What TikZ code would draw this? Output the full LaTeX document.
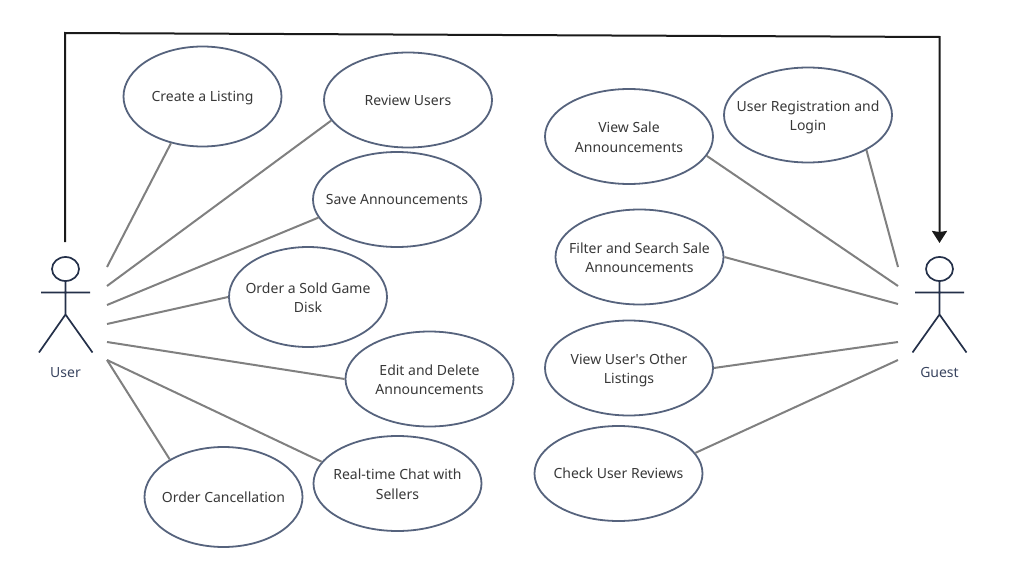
\documentclass[tikz,border=0pt]{standalone}
\usepackage{fontspec}
\setmainfont{Noto Sans}
\usetikzlibrary{shapes.geometric,arrows.meta}
\definecolor{ucedge}{HTML}{56637D}
\definecolor{uctext}{HTML}{383838}
\definecolor{actorc}{HTML}{243049}
\definecolor{actortext}{HTML}{3A4560}
\definecolor{linkc}{HTML}{808080}
\definecolor{flowc}{HTML}{1A1A1A}
\tikzset{
 usecase/.style={draw=ucedge,line width=1.8pt,ellipse,inner xsep=-30pt,inner ysep=0pt,minimum width=168pt,minimum height=95pt,align=center,text=uctext,font=\fontsize{14}{19.5}\selectfont,execute at begin node={\rule{0pt}{16.5pt}},execute at end node=\strut},
 usecasewide/.style={usecase,minimum width=158pt,minimum height=100pt},
 twolines/.style={execute at begin node={\rule{0pt}{37.5pt}}},
 actorline/.style={draw=actorc,line width=1.7pt},
 actorlabel/.style={text=actortext,font=\fontsize{14}{16}\selectfont,inner sep=0pt},
 link/.style={draw=linkc,line width=2pt},
 flow/.style={draw=flowc,line width=2pt},
}
\begin{document}
\begin{tikzpicture}[x=1pt,y=-1pt]
\useasboundingbox (0,0) rectangle (1026,578);
% use cases
\node[usecasewide] (create) at (202.5,96.5) {Create a Listing};
\node[usecase] (review) at (408,100) {Review Users};
\node[usecase] (save) at (397,199.5) {Save Announcements};
\node[usecasewide,twolines] (order) at (308,297) {Order a Sold Game\\Disk};
\node[usecase,twolines] (edit) at (429.5,379) {Edit and Delete\\Announcements};
\node[usecase,twolines] (chat) at (397.5,483.5) {Real-time Chat with\\Sellers};
\node[usecasewide] (cancel) at (223.5,497) {Order Cancellation};
\node[usecase,twolines] (viewsale) at (629,136.5) {View Sale\\Announcements};
\node[usecase,twolines] (register) at (808,115) {User Registration and\\Login};
\node[usecase,twolines] (filter) at (639.5,257) {Filter and Search Sale\\Announcements};
\node[usecase,twolines] (listings) at (629,368) {View User\textquotesingle s Other\\Listings};
\node[usecase] (check) at (618.5,473.5) {Check User Reviews};
% actors
\draw[actorline] (65.5,269) ellipse [x radius=13.5,y radius=12];
\draw[actorline] (65.5,281) -- (65.5,314.5) (41,292.5) -- (90,292.5) (39,352.5) -- (65.5,314.5) -- (92.5,352.5);
\node[actorlabel] (userlabel) at (65.5,372.5) {User};
\draw[actorline] (939.5,269) ellipse [x radius=13.5,y radius=12];
\draw[actorline] (939.5,281) -- (939.5,314.5) (915,292.5) -- (964,292.5) (912.5,352.5) -- (939.5,314.5) -- (966.5,352.5);
\node[actorlabel] (guestlabel) at (939.5,372.5) {Guest};
% free ends at the actors
\coordinate (u1) at (107,267);
\coordinate (u2) at (107,286);
\coordinate (u3) at (107,305);
\coordinate (u4) at (107,324);
\coordinate (u5) at (107,342);
\coordinate (u6) at (107,360);
\coordinate (g1) at (898,267);
\coordinate (g2) at (898,286);
\coordinate (g3) at (898,304);
\coordinate (g4) at (898,342);
\coordinate (g5) at (898,360);
\coordinate (ustart) at (65,242);
\coordinate (gend) at (939.5,243);
% links
\draw[link] (u1) -- (create.236.7);
\draw[link] (u2) -- (review.195.3);
\draw[link] (u3) -- (save.193);
\draw[link] (u4) -- (order.180);
\draw[link] (u5) -- (edit.180);
\draw[link] (u6) -- (chat.164);
\draw[link] (u6) -- (cancel.145);
\draw[link] (g1) -- (register.-31.5);
\draw[link] (g2) -- (viewsale.-14);
\draw[link] (g3) -- (filter.0);
\draw[link] (g4) -- (listings.0);
\draw[link] (g5) -- (check.15);
% top connector
\draw[flow,-{Stealth[length=12pt,width=15pt,inset=1pt]}] (ustart) -- (65,33) -- (939.5,37) -- (gend);
\end{tikzpicture}
\end{document}
